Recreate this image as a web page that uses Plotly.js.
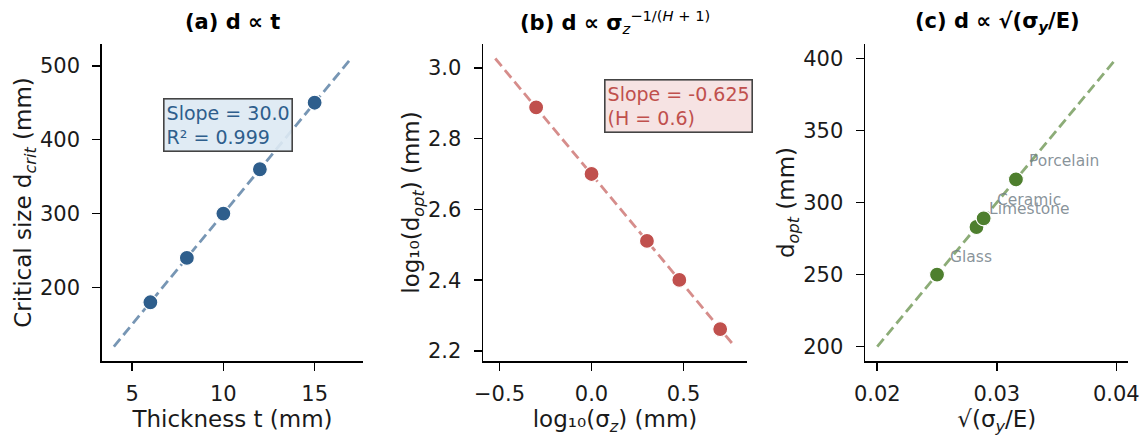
<!DOCTYPE html>
<html>
<head>
<meta charset="utf-8">
<script src="https://cdn.plot.ly/plotly-3.0.1.min.js"></script>
<style>html,body{margin:0;padding:0;background:#fff;}#chart{width:1141px;height:436px;}</style>
</head>
<body>
<div id="chart"></div>
<script>
// ---- Panel (a): d ∝ t ----
const thickness = [6, 8, 10, 12, 15];
const dCrit = [180, 240, 300, 360, 450];
const fitThickness = [4, 17];
const fitDCrit = [120, 510];

// ---- Panel (b): d ∝ σz^(-1/(H+1)) ----
const logSigma = [-0.301, 0.0, 0.301, 0.477, 0.699];
const logDopt = [2.888, 2.700, 2.511, 2.401, 2.262];
const fitLogSigma = [-0.523, 0.778];
const fitLogDopt = [3.026, 2.213];

// ---- Panel (c): d ∝ √(σy/E) ----
const materials = ['Glass', 'Limestone', 'Ceramic', 'Porcelain'];
const sqrtRatio = [0.025, 0.0283, 0.0289, 0.0316];
const dOpt = [250, 283, 289, 316];
const fitSqrtRatio = [0.02, 0.04];
const fitDOpt = [200, 400];

// tick labels
const xTicksA = [5, 10, 15];
const yTicksA = [200, 300, 400, 500];
const xTicksB = [-0.5, 0.0, 0.5];
const xTickTextB = ['\u22120.5', '0.0', '0.5'];
const yTicksB = [2.2, 2.4, 2.6, 2.8, 3.0];
const yTickTextB = ['2.2', '2.4', '2.6', '2.8', '3.0'];
const xTicksC = [0.02, 0.03, 0.04];
const xTickTextC = ['0.02', '0.03', '0.04'];
const yTicksC = [200, 250, 300, 350, 400];

const W = 1141, H = 436;
const FONT = 'DejaVu Sans, Verdana, sans-serif';
const blue = '#2e5e8c', blueLine = 'rgba(46,94,140,0.65)';
const red = '#c0504d', redLine = 'rgba(192,80,77,0.65)';
const green = '#4e7f2e', greenLine = 'rgba(78,127,46,0.65)';

function lineTrace(x, y, color, xa, ya) {
  return {x: x, y: y, mode: 'lines', xaxis: xa, yaxis: ya, hoverinfo: 'skip',
          line: {color: color, width: 2.8, dash: '10px,5px'}, showlegend: false};
}
function ptTrace(x, y, color, xa, ya) {
  return {x: x, y: y, mode: 'markers', xaxis: xa, yaxis: ya, showlegend: false,
          marker: {color: color, size: 15, line: {color: '#fff', width: 1.2}}};
}

const traces = [
  lineTrace(fitThickness, fitDCrit, blueLine, 'x', 'y'),
  ptTrace(thickness, dCrit, blue, 'x', 'y'),
  lineTrace(fitLogSigma, fitLogDopt, redLine, 'x2', 'y2'),
  ptTrace(logSigma, logDopt, red, 'x2', 'y2'),
  lineTrace(fitSqrtRatio, fitDOpt, greenLine, 'x3', 'y3'),
  ptTrace(sqrtRatio, dOpt, green, 'x3', 'y3')
];

function px(a, b) { return [a / W, b / W]; }
const yDom = [1 - 361 / H, 1 - 44 / H];

function axisBase(extra) {
  return Object.assign({
    showgrid: false, zeroline: false, showline: true, linecolor: '#000', linewidth: 1.8,
    ticks: 'outside', ticklen: 8, tickwidth: 1.6, tickcolor: '#000', mirror: false,
    tickfont: {family: FONT, size: 21, color: '#1a1a1a'}, fixedrange: true
  }, extra);
}
function xTitle(text) { return {text: text, font: {family: FONT, size: 23, color: '#1a1a1a'}, standoff: 4}; }
function yTitle(text) { return {text: text, font: {family: FONT, size: 23, color: '#1a1a1a'}, standoff: 2}; }

const annotations = [];
function panelTitle(text, xc) {
  annotations.push({text: text, xref: 'paper', yref: 'paper', x: xc / W, y: 1 - 22 / H,
    xanchor: 'center', yanchor: 'middle', showarrow: false,
    font: {family: FONT, size: 21, color: '#000'}});
}
panelTitle('<b>(a) d \u221d t</b>', 232.5);
panelTitle('<b>(b) d \u221d \u03c3</b><sub><i>z</i></sub><sup>\u22121/(<i>H</i> + 1)</sup>', 615);
panelTitle('<b>(c) d \u221d \u221a(\u03c3<sub><i>y</i></sub>/E)</b>', 997);

annotations.push({text: 'Slope = 30.0<br>R\u00b2 = 0.999', xref: 'paper', yref: 'paper',
  x: 162.5 / W, y: 1 - 97.5 / H, xanchor: 'left', yanchor: 'top', align: 'left', showarrow: false,
  font: {family: FONT, size: 19, color: blue}, bgcolor: 'rgba(221,233,243,0.9)',
  bordercolor: '#444', borderwidth: 1.6, borderpad: 2});
annotations.push({text: 'Slope = -0.625<br>(H = 0.6)', xref: 'paper', yref: 'paper',
  x: 603.5 / W, y: 1 - 78.5 / H, xanchor: 'left', yanchor: 'top', align: 'left', showarrow: false,
  font: {family: FONT, size: 19, color: red}, bgcolor: 'rgba(245,224,224,0.9)',
  bordercolor: '#444', borderwidth: 1.6, borderpad: 2});

materials.forEach(function (m, i) {
  annotations.push({text: m, xref: 'x3', yref: 'y3', x: sqrtRatio[i], y: dOpt[i],
    xanchor: 'left', yanchor: 'middle', xshift: 11, yshift: 18, showarrow: false,
    font: {family: FONT, size: 15.5, color: 'rgba(115,128,136,0.85)'}});
});

const layout = {
  width: W, height: H, paper_bgcolor: '#fff', plot_bgcolor: 'rgba(0,0,0,0)',
  margin: {l: 0, r: 0, t: 0, b: 0}, showlegend: false, font: {family: FONT},
  xaxis: axisBase({domain: px(102, 363), anchor: 'y', range: [3.35, 17.65], tickvals: xTicksA,
    ticklabelstandoff: 5, title: xTitle('Thickness t (mm)')}),
  yaxis: axisBase({domain: yDom, anchor: 'x', range: [100.5, 529.5], tickvals: yTicksA,
    ticklabelstandoff: 8, title: yTitle('Critical size d<sub><i>crit</i></sub> (mm)')}),
  xaxis2: axisBase({domain: px(483.3, 746.7), anchor: 'y2', range: [-0.588, 0.843], tickvals: xTicksB,
    ticktext: xTickTextB, ticklabelstandoff: 5, title: xTitle('log\u2081\u2080(\u03c3<sub><i>z</i></sub>) (mm)')}),
  yaxis2: axisBase({domain: yDom, anchor: 'x2', range: [2.172, 3.067], tickvals: yTicksB,
    ticktext: yTickTextB, ticklabelstandoff: 8, title: yTitle('log\u2081\u2080(d<sub><i>opt</i></sub>) (mm)')}),
  xaxis3: axisBase({domain: px(865.3, 1128.3), anchor: 'y3', range: [0.019, 0.041], tickvals: xTicksC,
    ticktext: xTickTextC, ticklabelstandoff: 5, title: xTitle('\u221a(\u03c3<sub><i>y</i></sub>/E)')}),
  yaxis3: axisBase({domain: yDom, anchor: 'x3', range: [190, 410], tickvals: yTicksC,
    ticklabelstandoff: 8, title: yTitle('d<sub><i>opt</i></sub> (mm)')}),
  annotations: annotations
};

Plotly.newPlot('chart', traces, layout, {displayModeBar: false, staticPlot: true});
</script>
</body>
</html>
